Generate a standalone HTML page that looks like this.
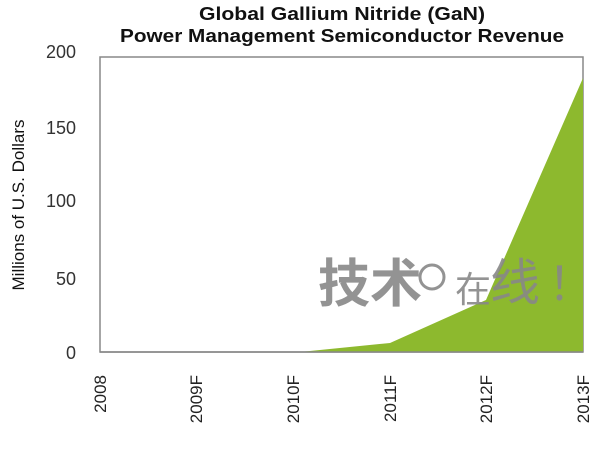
<!DOCTYPE html>
<html><head><meta charset="utf-8"><style>
body{margin:0;background:#fff;}
svg text{font-family:"Liberation Sans","Noto Sans CJK SC",sans-serif;}
</style></head><body>
<svg width="600" height="446" viewBox="0 0 600 446" xmlns="http://www.w3.org/2000/svg">
<rect width="600" height="446" fill="#fff"/>
<text x="342" y="20" font-size="18.5" font-weight="bold" text-anchor="middle" fill="#111" textLength="286" lengthAdjust="spacingAndGlyphs">Global Gallium Nitride (GaN)</text>
<text x="342" y="42" font-size="18.5" font-weight="bold" text-anchor="middle" fill="#111" textLength="444" lengthAdjust="spacingAndGlyphs">Power Management Semiconductor Revenue</text>
<rect x="100" y="57" width="483" height="295" fill="none" stroke="#888" stroke-width="1.5"/>
<polygon points="300,352 390,343 486,300 583,78 583,352" fill="#8db92e"/>
<line x1="100" y1="352" x2="583" y2="352" stroke="#888" stroke-width="1.5"/>
<g font-size="18" fill="#333" text-anchor="end">
<text x="76" y="58">200</text>
<text x="76" y="134">150</text>
<text x="76" y="207">100</text>
<text x="76" y="285">50</text>
<text x="76" y="359">0</text>
</g>
<text transform="translate(24,205) rotate(-90)" font-size="17" text-anchor="middle" fill="#111">Millions of U.S. Dollars</text>
<g font-size="17" fill="#222" text-anchor="end">
<text transform="translate(106,375) rotate(-90)">2008</text>
<text transform="translate(202,375) rotate(-90)">2009F</text>
<text transform="translate(299,375) rotate(-90)">2010F</text>
<text transform="translate(396,375) rotate(-90)">2011F</text>
<text transform="translate(492,375) rotate(-90)">2012F</text>
<text transform="translate(589,375) rotate(-90)">2013F</text>
</g>
<g fill="#888" opacity="0.9">
<text x="318" y="302" font-size="52" font-weight="bold" font-family="Noto Sans CJK SC,sans-serif">技术</text>
<circle cx="432" cy="277" r="12" fill="none" stroke="#888" stroke-width="3"/>
<text x="455" y="302" font-size="36" font-family="Noto Sans CJK SC,sans-serif">在</text>
<text x="490" y="300" font-size="50" font-family="Noto Sans CJK SC,sans-serif">线</text>
<text x="548" y="300" font-size="46" font-family="Noto Sans CJK SC,sans-serif">！</text>
</g>
</svg>
</body></html>
